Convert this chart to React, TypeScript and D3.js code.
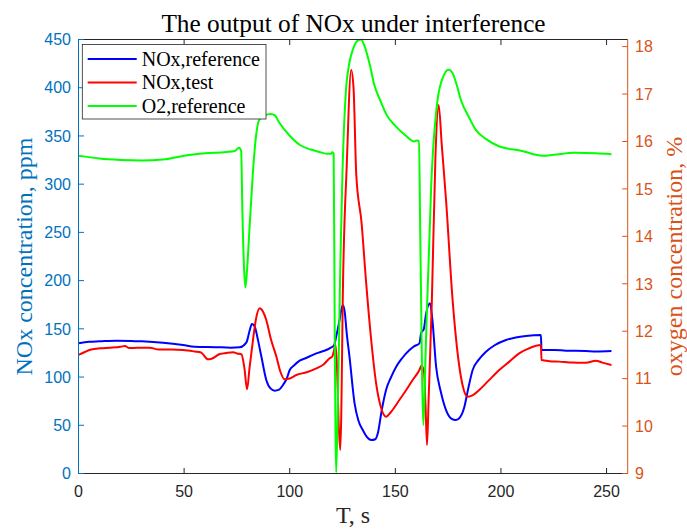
import React from 'react';
import * as d3 from 'd3';

const W = 687;
const H = 530;

// O2, reference (right axis, %)
const o2T = [0, 5, 10, 20, 30, 40, 50, 60, 70, 74, 76, 77, 77.6, 78.4, 79, 79.8, 81, 82.5, 84, 85.5, 88, 91, 93, 95, 100, 105, 110, 114, 118, 119.6, 120.2, 120.8, 121.3, 122, 123, 124, 125, 126.5, 128, 130, 132, 133.8, 135.5, 138, 140, 143, 146, 150, 155, 159, 160, 161.2, 161.8, 163.3, 164.3, 167, 170, 173, 175.2, 177, 179, 181, 185, 188, 193, 199, 210, 219.7, 225, 235, 245, 252.3];
const o2V = [15.7, 15.67, 15.64, 15.61, 15.6, 15.62, 15.7, 15.75, 15.78, 15.8, 15.87, 15.8, 14.5, 13.3, 12.92, 13.3, 14.2, 15.3, 16.1, 16.45, 16.55, 16.58, 16.55, 16.4, 16.12, 15.92, 15.83, 15.78, 15.74, 15.74, 15.78, 15.74, 12.0, 9.02, 11.0, 13.5, 15.4, 17.0, 17.6, 17.95, 18.12, 18.15, 18.0, 17.6, 17.2, 16.85, 16.55, 16.33, 16.12, 16.0, 16.02, 16.01, 14.0, 10.02, 11.5, 15.1, 16.88, 17.4, 17.51, 17.45, 17.2, 16.88, 16.5, 16.25, 16.05, 15.9, 15.8, 15.7, 15.72, 15.76, 15.75, 15.73];

// NOx, reference (left axis, ppm)
const refT = [0, 5, 10, 18, 25, 30, 40, 49.5, 55, 65, 72, 76.3, 79.5, 81, 82.1, 83.5, 85, 86.6, 88.9, 91, 92.9, 95, 96.8, 98.5, 100, 102, 104.7, 108, 112.6, 116, 118.9, 121, 122, 123.5, 125.1, 126, 127, 128.3, 130.7, 132.5, 134.6, 136.5, 138.6, 140.5, 141.7, 143.5, 145.6, 148, 150.4, 153, 156.7, 159, 161.4, 162.2, 163.5, 164.5, 166.4, 167.5, 169.3, 171.5, 174, 176.5, 178.7, 180.5, 182.7, 184.5, 186.6, 189.5, 192.9, 197, 202.4, 207, 211.8, 218.9, 219.2, 225, 230.7, 240, 245, 252.3];
const refV = [135, 136.5, 137, 137.7, 137.5, 137, 135.5, 133.2, 131.5, 131, 130.5, 130.9, 136, 148, 155, 152, 138, 121, 97, 88, 85.9, 87, 91.8, 98, 107.3, 112, 117, 120, 124.6, 127, 129.8, 133, 142, 158, 174.7, 168, 145, 121, 72.8, 55, 45.1, 38, 34.7, 35.5, 41.7, 65, 86.6, 100, 110.7, 119, 128, 132, 135, 145.4, 150, 165, 176.5, 160, 110.7, 85, 65.8, 57, 55.5, 58, 69.3, 88, 107.3, 118, 126.3, 133, 138.4, 141, 142.6, 143.6, 128, 128, 127.4, 127, 126.5, 127];

// NOx, test (left axis, ppm)
const testT = [0, 3, 6, 10.2, 15, 20, 22, 24, 28, 33.8, 38, 44, 49.5, 55, 58, 61.3, 63, 66.9, 70, 73.2, 75, 77.1, 78.5, 79.8, 81, 82.6, 84, 85.8, 87.3, 88.9, 91, 93.7, 95.5, 97.6, 100, 103.1, 108, 112.6, 116, 118.9, 120.1, 121, 121.6, 122.4, 123.2, 123.9, 124.4, 125.1, 127, 129.1, 130.2, 131.5, 134, 136.2, 138.5, 140.9, 143, 145.6, 148, 151.9, 155, 158.2, 161.4, 162.4, 163.6, 164.3, 165, 165.8, 167.3, 169, 170.5, 172, 174, 177.1, 180.3, 182, 184.2, 186.5, 189.7, 194, 199.2, 204, 208.6, 213, 218.9, 219.2, 223, 227.6, 234, 240.2, 244.9, 248, 252.3];
const testV = [122.9, 126, 128.5, 129.8, 130.5, 131.5, 132.2, 130, 130.5, 130.5, 128.5, 128.5, 128, 126.5, 125.5, 118.4, 119, 123.9, 125, 125.7, 124.5, 123.6, 110, 87.3, 110, 138.4, 160, 171.3, 168, 159.2, 140, 121, 106, 97.7, 98.5, 102.1, 105, 109, 113, 119.5, 121.1, 128, 134, 110, 50, 24.4, 60, 180, 320, 418.4, 400, 310, 260, 197.2, 140, 93.5, 70, 58.9, 64, 76.2, 86, 97, 107.3, 112, 105, 70, 29.5, 80, 180, 330, 382.1, 340, 283.6, 180, 110.7, 90, 79.6, 81, 86.6, 96, 107.3, 116, 124.6, 129.5, 133.2, 117.7, 116.5, 116, 115, 114.9, 117, 115, 112.5];

const xTicks = [0, 50, 100, 150, 200, 250];
const yLeftTicks = [0, 50, 100, 150, 200, 250, 300, 350, 400, 450];
const yRightTicks = [9, 10, 11, 12, 13, 14, 15, 16, 17, 18];

const legendLabels = ['NOx,reference', 'NOx,test', 'O2,reference'];
const seriesColors = ['#0000FF', '#FF0000', '#00FF00'];

const LEFT_C = '#0072BD';
const RIGHT_C = '#D95319';
const AX_C = '#262626';
const SERIF = '"Liberation Serif", "Times New Roman", serif';
const SANS = '"Liberation Sans", Arial, Helvetica, sans-serif';

export default function App() {
  const L = 78.5, R = 627.7, T = 39.5, B = 473.5;
  const x = d3.scaleLinear().domain([0, 260]).range([L, R]);
  const yL = d3.scaleLinear().domain([0, 450]).range([B, T]);
  const yR = d3.scaleLinear().domain([9, 18.15]).range([B, T]);

  const mk = (ts: number[], vs: number[], ys: d3.ScaleLinear<number, number>) =>
    d3.line<number>().x((_, i) => x(ts[i])).y((v) => ys(v)).curve(d3.curveMonotoneX)(vs) || '';

  const pRef = mk(refT, refV, yL);
  const pTest = mk(testT, testV, yL);
  const pO2 = mk(o2T, o2V, yR);

  const tick = 5.5;

  return (
    <svg width={W} height={H} style={{ position: 'absolute', left: 0, top: 0, background: '#fff' }}>
      <rect x={0} y={0} width={W} height={H} fill="#fff" />
      <defs>
        <clipPath id="plotClip">
          <rect x={L} y={T - 1} width={R - L} height={B - T + 2} />
        </clipPath>
      </defs>
      {/* title */}
      <text x={353.5} y={31.5} textAnchor="middle" fontFamily={SERIF} fontSize={25.3} fill="#000">
        The output of NOx under interference
      </text>

      {/* lines */}
      <g clipPath="url(#plotClip)" fill="none" strokeWidth={2} strokeLinejoin="round">
        <path d={pRef} stroke={seriesColors[0]} />
        <path d={pTest} stroke={seriesColors[1]} />
        <path d={pO2} stroke={seriesColors[2]} />
      </g>

      {/* box: top & bottom */}
      <line x1={L} x2={R} y1={B} y2={B} stroke={AX_C} strokeWidth={1} />
      <line x1={L} x2={R} y1={T} y2={T} stroke={AX_C} strokeWidth={1} />
      {xTicks.map((t) => (
        <g key={'xt' + t}>
          <line x1={x(t)} x2={x(t)} y1={B} y2={B - tick} stroke={AX_C} strokeWidth={1} />
          <line x1={x(t)} x2={x(t)} y1={T} y2={T + tick} stroke={AX_C} strokeWidth={1} />
          <text x={x(t)} y={497} textAnchor="middle" fontFamily={SANS} fontSize={16} fill={AX_C}>
            {t}
          </text>
        </g>
      ))}

      {/* left axis */}
      <line x1={L} x2={L} y1={T} y2={B} stroke={LEFT_C} strokeWidth={1} />
      {yLeftTicks.map((v) => (
        <g key={'yl' + v}>
          <line x1={L} x2={L + tick} y1={yL(v)} y2={yL(v)} stroke={LEFT_C} strokeWidth={1} />
          <text x={L - 7.5} y={yL(v)} dy="0.36em" textAnchor="end" fontFamily={SANS} fontSize={16} fill={LEFT_C}>
            {v}
          </text>
        </g>
      ))}
      <text transform={`translate(31.5, ${(T + B) / 2}) rotate(-90)`} textAnchor="middle" fontFamily={SERIF} fontSize={24} fill={LEFT_C}>
        NOx concentration, ppm
      </text>

      {/* right axis */}
      <line x1={R} x2={R} y1={T} y2={B} stroke={RIGHT_C} strokeWidth={1} />
      {yRightTicks.map((v) => (
        <g key={'yr' + v}>
          <line x1={R} x2={R - tick} y1={yR(v)} y2={yR(v)} stroke={RIGHT_C} strokeWidth={1} />
          <text x={R + 7.3} y={yR(v)} dy="0.36em" textAnchor="start" fontFamily={SANS} fontSize={16} fill={RIGHT_C}>
            {v}
          </text>
        </g>
      ))}
      <text transform={`translate(682, ${(T + B) / 2}) rotate(-90)`} textAnchor="middle" fontFamily={SERIF} fontSize={24} fill={RIGHT_C}>
        oxygen concentration, %
      </text>

      {/* x label */}
      <text x={353} y={523} textAnchor="middle" fontFamily={SERIF} fontSize={24} fill={AX_C}>
        T, s
      </text>

      {/* legend */}
      <g>
        <rect x={82.3} y={44.5} width={183.7} height={74.5} fill="#fff" stroke={AX_C} strokeWidth={0.8} />
        {legendLabels.map((lab, i) => {
          const cy = 59 + i * 23.5;
          return (
            <g key={lab}>
              <line x1={87.7} x2={136.7} y1={cy} y2={cy} stroke={seriesColors[i]} strokeWidth={2} />
              <text x={141.7} y={cy} dy="0.33em" fontFamily={SERIF} fontSize={20} fill="#000">
                {lab}
              </text>
            </g>
          );
        })}
      </g>
    </svg>
  );
}
